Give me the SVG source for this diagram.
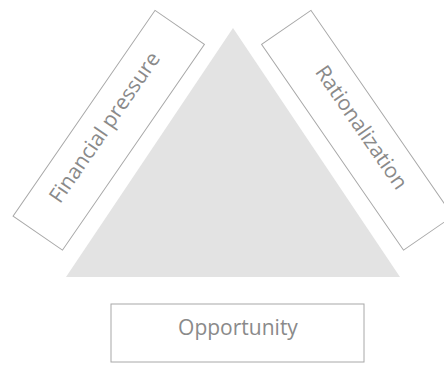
<svg xmlns="http://www.w3.org/2000/svg" width="444" height="365" viewBox="0 0 444 365">
<style>
.box{fill:#ffffff;stroke:#a8a8a8;stroke-width:1}
.lbl{font-family:"Open Sans","Liberation Sans",sans-serif;font-size:21px;fill:#8a8a8a;text-anchor:middle}
</style>
<rect width="444" height="365" fill="#ffffff"/>
<g id="triangle">
<polygon points="233,28 400,277 66,277" fill="#e3e3e3"/>
</g>
<g id="financial-pressure" transform="translate(108.75,130.25) rotate(-55.4)">
<rect class="box" x="-125" y="-30" width="250" height="60"/>
<text class="lbl" x="0" y="2">Financial pressure</text>
</g>
<g id="rationalization" transform="translate(357.25,130.25) rotate(55.4)">
<rect class="box" x="-125" y="-30" width="250" height="60"/>
<text class="lbl" x="0" y="2">Rationalization</text>
</g>
<g id="opportunity">
<rect class="box" x="111" y="304" width="253" height="58"/>
<text class="lbl" x="238" y="335">Opportunity</text>
</g>
</svg>
